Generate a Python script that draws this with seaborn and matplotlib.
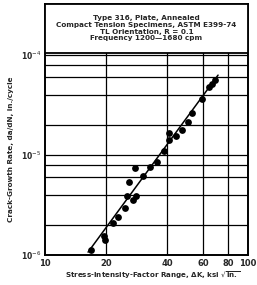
import numpy as np
import pandas as pd
import seaborn as sns
import matplotlib.pyplot as plt
from matplotlib.patches import Rectangle

# data
delta_k = [16.9, 19.5, 19.7, 21.7, 23.0, 24.8, 25.3, 27.2, 28.1, 26.0, 30.5, 27.9,
           32.9, 35.6, 38.6, 40.9, 40.9, 44.2, 47.1, 50.5, 52.8, 59.1, 64.3, 66.5, 68.8]
dadn = [1.12e-6, 1.55e-6, 1.41e-6, 2.09e-6, 2.40e-6, 2.95e-6, 3.89e-6, 3.55e-6, 3.94e-6,
        5.33e-6, 6.17e-6, 7.36e-6, 7.67e-6, 8.57e-6, 1.11e-5, 1.43e-5, 1.66e-5, 1.55e-5,
        1.78e-5, 2.14e-5, 2.61e-5, 3.61e-5, 4.79e-5, 5.13e-5, 5.62e-5]
fit_k = [16.3, 71.2]
fit_rate = [1.07e-6, 6.3e-5]

x_ticks = [10, 20, 40, 60, 80, 100]
x_labels = ["10", "20", "40", "60", "80", "100"]
y_ticks = [1e-6, 1e-5, 1e-4]
y_labels = ["10$^{-6}$", "10$^{-5}$", "10$^{-4}$"]
x_grid = [20, 40, 60, 80]
y_grid = [m * 10.0 ** e for e in (-6, -5, -4) for m in (1, 2, 4, 6, 8)]

title_lines = "Type 316, Plate, Annealed\nCompact Tension Specimens, ASTM E399-74\nTL Orientation, R = 0.1\nFrequency 1200\u20141680 cpm"

df = pd.DataFrame({"dK": delta_k, "rate": dadn})
fit = pd.DataFrame({"dK": fit_k, "rate": fit_rate})

sns.set_style("white")
plt.rcParams["font.family"] = ["DejaVu Sans"]

fig = plt.figure(figsize=(2.57, 2.85), dpi=100)
ax = fig.add_axes([0.175, 0.105, 0.79, 0.881])

ax.set_xscale("log")
ax.set_yscale("log")
ax.set_xlim(10, 100)
ax.set_ylim(1e-6, 3.24e-4)

# grid
for g in x_grid:
    ax.axvline(g, color="black", lw=0.9, zorder=1)
for g in y_grid:
    ax.axhline(g, color="black", lw=0.9, zorder=1)

sns.lineplot(data=fit, x="dK", y="rate", color="black", lw=1.1, ax=ax, zorder=3)
sns.scatterplot(data=df, x="dK", y="rate", color="black", s=24, edgecolor="black",
                linewidth=0, ax=ax, zorder=4)

# title box on top of the grid
ax.add_patch(Rectangle((0, 0.805), 1, 0.195, transform=ax.transAxes,
                       facecolor="white", edgecolor="black", lw=1.3, zorder=5))
ax.text(0.5, 0.903, title_lines, transform=ax.transAxes, ha="center", va="center",
        fontsize=5.2, fontweight="semibold", linespacing=1.15, zorder=6)

ax.set_xticks(x_ticks)
ax.set_xticklabels(x_labels, fontsize=6, fontweight="semibold")
ax.set_yticks(y_ticks)
ax.set_yticklabels(y_labels, fontsize=5.5, fontweight="semibold")
ax.minorticks_off()
ax.tick_params(length=0, pad=2.5)

for s in ax.spines.values():
    s.set_color("black")
    s.set_linewidth(1.4)

ax.set_xlabel("Stress-Intensity-Factor Range, \u0394K, ksi $\\sqrt{\\mathregular{in.}}$",
              fontsize=5.1, fontweight="semibold", va="center")
ax.xaxis.set_label_coords(0.53, -0.082)
ax.set_ylabel("Crack-Growth Rate, da/dN, in./cycle", fontsize=5.2, fontweight="semibold")
ax.yaxis.set_label_coords(-0.155, 0.42)

fig.savefig("out.png", dpi=100)
